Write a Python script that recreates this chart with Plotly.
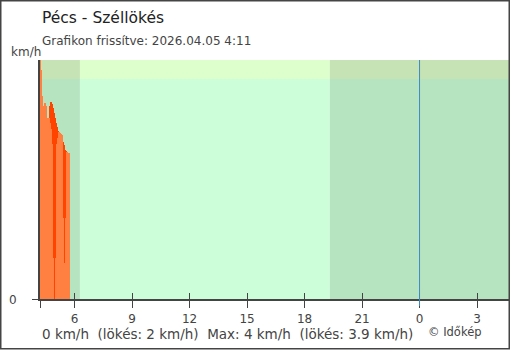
import plotly.graph_objects as go

# ---- data ----
times = ["04:12", "04:15", "04:18", "04:21", "04:24", "04:27", "04:30", "04:33",
         "04:36", "04:39", "04:42", "04:45", "04:48", "04:51", "04:54", "04:57",
         "05:00", "05:03", "05:06", "05:09", "05:12", "05:15", "05:18", "05:21",
         "05:24", "05:27", "05:30", "05:33", "05:36", "05:39", "05:42"]
gust = [4.00, 3.83, 3.40, 3.15, 3.23, 3.28, 3.23, 3.03, 2.86, 3.03,
        3.23, 3.30, 3.26, 3.20, 3.11, 3.03, 2.95, 2.88, 2.81, 2.79,
        2.78, 2.76, 2.74, 2.69, 2.63, 2.58, 2.49, 2.48, 2.46, 2.44, 2.44]
speed = [4.00, 3.83, 3.40, 3.15, 3.23, 3.28, 3.23, 3.03, 2.86, 3.03,
         2.95, 2.85, 2.60, 0.69, 0.00, 0.00, 0.69, 2.60, 2.70, 2.79,
         2.78, 2.76, 2.74, 1.36, 1.36, 0.60, 0.60, 1.36, 2.46, 2.44, 2.44]
step_min = 3
range_start = "04:12"
range_end = "04:40"   # next day
sunrise = "06:17"
sunset = "19:19"
tick_hours = [6, 9, 12, 15, 18, 21, 24, 27]
tick_labels = ["6", "9", "12", "15", "18", "21", "0", "3"]
y_max = 4.0

title = "Pécs - Széllökés"
subtitle = "Grafikon frissítve: 2026.04.05 4:11"
summary = "0 km/h \u00a0(lökés: 2 km/h) \u00a0Max: 4 km/h \u00a0(lökés: 3.9 km/h)"
credit = "© Időkép"


def hours(s, next_day=False):
    h, m = s.split(":")
    return int(h) + int(m) / 60 + (24 if next_day else 0)


x = [hours(t) for t in times]
x0 = hours(range_start)
x1 = hours(range_end, next_day=True)
t_rise = hours(sunrise)
t_set = hours(sunset)
width_h = step_min / 60

W, H = 510, 350
ML, MR, MT, MB = 40, 1, 60, 51
PW, PH = W - ML - MR, H - MT - MB


def px(xp):
    return (xp - ML) / PW


def py(yp):
    return (H - MB - yp) / PH


FONT = "DejaVu Sans"
TXT = "#444444"

fig = go.Figure()
fig.add_trace(go.Bar(x=x, y=gust, width=width_h, offset=0,
                     marker=dict(color="#ff4400", line=dict(width=0)),
                     name="lökés", hoverinfo="skip"))
fig.add_trace(go.Bar(x=x, y=speed, width=width_h, offset=0,
                     marker=dict(color="#ff8040", line=dict(width=0)),
                     name="szél", hoverinfo="skip"))
fig.add_trace(go.Scatter(x=[], y=[], xaxis="x2", showlegend=False))

band = py(79)
shapes = []
for a, b, main, top in [(x0, t_rise, "#b7e4c0", "#c5e3b5"),
                        (t_rise, t_set, "#ccffd9", "#ddffcc"),
                        (t_set, x1, "#b7e4c0", "#c5e3b5")]:
    shapes.append(dict(type="rect", xref="x", yref="paper", x0=a, x1=b, y0=0, y1=band,
                       fillcolor=main, line=dict(width=0), layer="below"))
    shapes.append(dict(type="rect", xref="x", yref="paper", x0=a, x1=b, y0=band, y1=1,
                       fillcolor=top, line=dict(width=0), layer="below"))
shapes.append(dict(type="line", xref="x", yref="paper", x0=24, x1=24,
                   y0=py(306), y1=1, line=dict(color="#3d8bc5", width=1), layer="above"))
shapes.append(dict(type="rect", xref="paper", yref="paper",
                   x0=px(0.75), x1=px(509.25), y0=py(348.75), y1=py(0.75),
                   line=dict(color="#444444", width=1.5), layer="above"))

ann = [
    dict(text=title, x=px(40), y=py(18), xanchor="left", yanchor="middle",
         font=dict(size=15.5, color="#222222")),
    dict(text=subtitle, x=px(40), y=py(41), xanchor="left", yanchor="middle",
         font=dict(size=12, color=TXT)),
    dict(text="km/h", x=px(43), y=py(52), xanchor="right", yanchor="middle",
         font=dict(size=12, color=TXT)),
    dict(text="0", x=px(7), y=py(300), xanchor="left", yanchor="middle",
         font=dict(size=12, color=TXT)),
    dict(text=summary, x=px(40), y=py(334), xanchor="left", yanchor="middle",
         font=dict(size=13.5, color=TXT)),
    dict(text=credit, x=px(426), y=py(332), xanchor="left", yanchor="middle",
         font=dict(size=11.5, color=TXT)),
]
for a in ann:
    a.update(xref="paper", yref="paper", showarrow=False)

fig.update_layout(
    width=W, height=H, margin=dict(l=ML, r=MR, t=MT, b=MB, pad=0),
    paper_bgcolor="white", plot_bgcolor="white",
    barmode="overlay", bargap=0, showlegend=False,
    font=dict(family=FONT, color=TXT, size=12),
    shapes=shapes, annotations=ann,
    xaxis=dict(range=[x0, x1], showgrid=False, zeroline=False,
               showline=True, linecolor="#444444", linewidth=1.5,
               ticks="outside", ticklen=7, tickcolor="#444444", tickwidth=1,
               tickvals=[x0] + tick_hours, ticktext=[""] + tick_labels,
               ticklabelstandoff=1,
               tickfont=dict(size=12, color=TXT, family=FONT)),
    xaxis2=dict(range=[x0, x1], overlaying="x", anchor="y", side="bottom",
                showgrid=False, zeroline=False, showline=False,
                ticks="inside", ticklen=6, tickcolor="#444444", tickwidth=1,
                tickvals=tick_hours, showticklabels=False),
    yaxis=dict(range=[0, y_max], showgrid=False, zeroline=False,
               showline=True, linecolor="#444444", linewidth=1.5,
               ticks="outside", ticklen=6, tickcolor="#444444",
               tickvals=[0], showticklabels=False),
)

fig.write_html("out.html")
